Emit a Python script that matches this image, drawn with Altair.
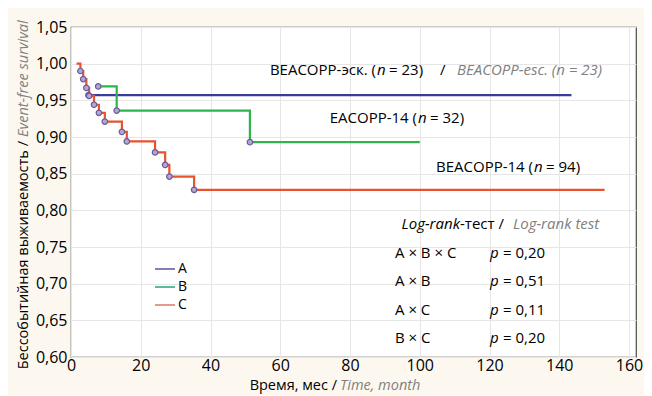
import altair as alt
import pandas as pd

# ---- Kaplan-Meier curves (time in months, survival) ----
A_t = [5.0, 143.5]
A_s = [0.957, 0.957]
A_ev = [1, 0]

B_t = [7.8, 13.1, 51.3, 100.0]
B_s = [0.969, 0.936, 0.893, 0.893]
B_ev = [1, 1, 1, 0]

C_t = [1.6, 2.7, 3.5, 4.4, 5.2, 6.6, 8.0, 9.7, 14.6, 16.0, 24.1, 27.0, 28.2, 35.3, 153.0]
C_s = [1.0, 0.990, 0.979, 0.967, 0.956, 0.944, 0.933, 0.921, 0.907, 0.894, 0.879, 0.862, 0.846, 0.828, 0.828]
C_ev = [0, 1, 1, 1, 1, 1, 1, 1, 1, 1, 1, 1, 1, 1, 0]

x_ticks = [0, 20, 40, 60, 80, 100, 120, 140, 160]
y_ticks = [0.60, 0.65, 0.70, 0.75, 0.80, 0.85, 0.90, 0.95, 1.00, 1.05]

groups = ["A", "B", "C"]
line_colors = ["#3b3c9a", "#2fb34b", "#e8532c"]
legend_colors = ["#8a7cb6", "#5fb99c", "#e39a8c"]

logrank_pairs = ["A × B × C", "A × B", "A × C", "B × C"]
logrank_p = ["= 0,20", "= 0,51", "= 0,11", "= 0,20"]

FONT = "Open Sans"
GRAY = "#808080"
W, H = 565, 330
OX, OY = 71, 27  # plot origin on the page

rows = []
for g, ts, ss, evs in [("A", A_t, A_s, A_ev), ("B", B_t, B_s, B_ev), ("C", C_t, C_s, C_ev)]:
    for t, s, e in zip(ts, ss, evs):
        rows.append({"group": g, "t": t, "s": s, "event": e})
km = pd.DataFrame(rows)

xs = alt.Scale(domain=[0, 162], nice=False, zero=False)
ys = alt.Scale(domain=[0.60, 1.05], nice=False, zero=False)

xaxis = alt.Axis(values=x_ticks, title=None, labelPadding=0)
yaxis = alt.Axis(values=y_ticks, title=None, labelPadding=4,
                 labelExpr="replace(format(datum.value, '.2f'), '.', ',')")

base = alt.Chart(km)

lines = base.mark_line(interpolate="step-after", strokeWidth=2.2).encode(
    x=alt.X("t:Q", scale=xs, axis=xaxis),
    y=alt.Y("s:Q", scale=ys, axis=yaxis),
    color=alt.Color("group:N", scale=alt.Scale(domain=groups, range=line_colors), legend=None),
    detail="group:N",
)

pts = base.transform_filter(alt.datum.event == 1).mark_point(
    filled=True, size=30, fill="#b3a6d3", stroke="#6a5a9a", strokeWidth=1.2, opacity=1
).encode(x=alt.X("t:Q", scale=xs, axis=xaxis), y=alt.Y("s:Q", scale=ys, axis=yaxis))

# ---- annotations (page pixel positions converted to plot pixels) ----
ann = [
    ("n", "right", "BEACOPP-эск. (", 376, 70),
    ("i", "left", "n", 377, 70),
    ("n", "left", "= 23)", 389, 70),
    ("n", "left", "/", 440, 70),
    ("g", "left", "BEACOPP-esc. (n = 23)", 457, 70),
    ("n", "right", "EACOPP-14 (", 417, 118),
    ("i", "left", "n", 418, 118),
    ("n", "left", "= 32)", 430, 118),
    ("n", "right", "BEACOPP-14 (", 533, 167),
    ("i", "left", "n", 534, 167),
    ("n", "left", "= 94)", 546, 167),
    ("i", "right", "Log-rank", 460, 224),
    ("n", "left", "-тест /", 460, 224),
    ("g", "left", "Log-rank test", 513, 224),
]
xt = [("n", "right", "Время, мес /", 337, 386),
      ("g", "left", "Time, month", 340, 386)]
row_y = [253, 281, 310, 338]
for pair, pv, yy in zip(logrank_pairs, logrank_p, row_y):
    ann.append(("n", "left", pair, 395, yy))
    ann.append(("i", "left", "p", 490, yy))
    ann.append(("n", "left", pv, 503, yy))
leg_y = [269, 287, 305]

cols = ["style", "align", "text", "px", "py"]
ann_df = pd.DataFrame(ann, columns=cols)
ann_df["px"] = ann_df["px"] - OX
ann_df["py"] = ann_df["py"] - OY
xt_df = pd.DataFrame(xt, columns=cols)
xt_df["px"] = xt_df["px"] - OX
xt_df["py"] = xt_df["py"] - OY
lg_df = pd.DataFrame([("n", "left", g, 178 - OX, yy - OY) for g, yy in zip(groups, leg_y)],
                     columns=cols)


def text_layer(style, align, angle=0, df=None, size=15):
    d = ann_df if df is None else df
    sub = d[(d["style"] == style) & (d["align"] == align)]
    return alt.Chart(sub).mark_text(
        font=FONT, fontSize=size, align=align, baseline="middle", angle=angle,
        fontStyle="italic" if style in ("i", "g") else "normal",
        color=GRAY if style == "g" else "black",
    ).encode(
        x=alt.X("px:Q", scale=None, axis=None),
        y=alt.Y("py:Q", scale=None, axis=None),
        text="text:N",
    )


text_layers = [text_layer(s, a) for s, a in [("n", "right"), ("n", "left"), ("i", "left"),
                                              ("i", "right"), ("g", "left")]]
xtitle_layers = [text_layer("n", "right", 0, xt_df, 14.5), text_layer("g", "left", 0, xt_df, 14.5)]
legend_text = text_layer("n", "left", 0, lg_df, 14)

ytitle = pd.DataFrame([
    ("n", "right", "Бессобытийная выживаемость /", 24, 141),
    ("g", "left", "Event-free survival", 24, 137),
], columns=cols)
ytitle["px"] = ytitle["px"] - OX
ytitle["py"] = ytitle["py"] - OY
ytitle_layers = [text_layer("n", "right", 270, ytitle, 14.5),
                 text_layer("g", "left", 270, ytitle, 14.5)]

leg_df = pd.DataFrame({
    "group": groups,
    "px": [155 - OX] * 3,
    "px2": [175 - OX] * 3,
    "py": [y - OY for y in leg_y],
})
leg_lines = alt.Chart(leg_df).mark_rule(strokeWidth=2).encode(
    x=alt.X("px:Q", scale=None, axis=None),
    x2="px2:Q",
    y=alt.Y("py:Q", scale=None, axis=None),
    color=alt.Color("group:N", scale=alt.Scale(domain=groups, range=legend_colors), legend=None),
)

chart = alt.layer(lines, pts, leg_lines, legend_text, *text_layers, *xtitle_layers,
                  *ytitle_layers).resolve_scale(
    color="independent"
).properties(
    width=W, height=H,
    autosize=alt.AutoSizeParams(type="none"),
    padding={"left": 63, "top": 19, "right": 8, "bottom": 38},
    background="#fdf8ef",
).configure_axis(
    grid=True, gridColor="#e6e6e6", labelFont=FONT, labelFontSize=16, labelColor="black",
    tickSize=0, domain=False, labelFlush=False, labelOverlap=False, labelBound=False,
).configure_view(
    fill="white", stroke="#4a4a4a", strokeWidth=1.2
)

chart.save("out.html", embed_options={"renderer": "svg", "actions": False})
